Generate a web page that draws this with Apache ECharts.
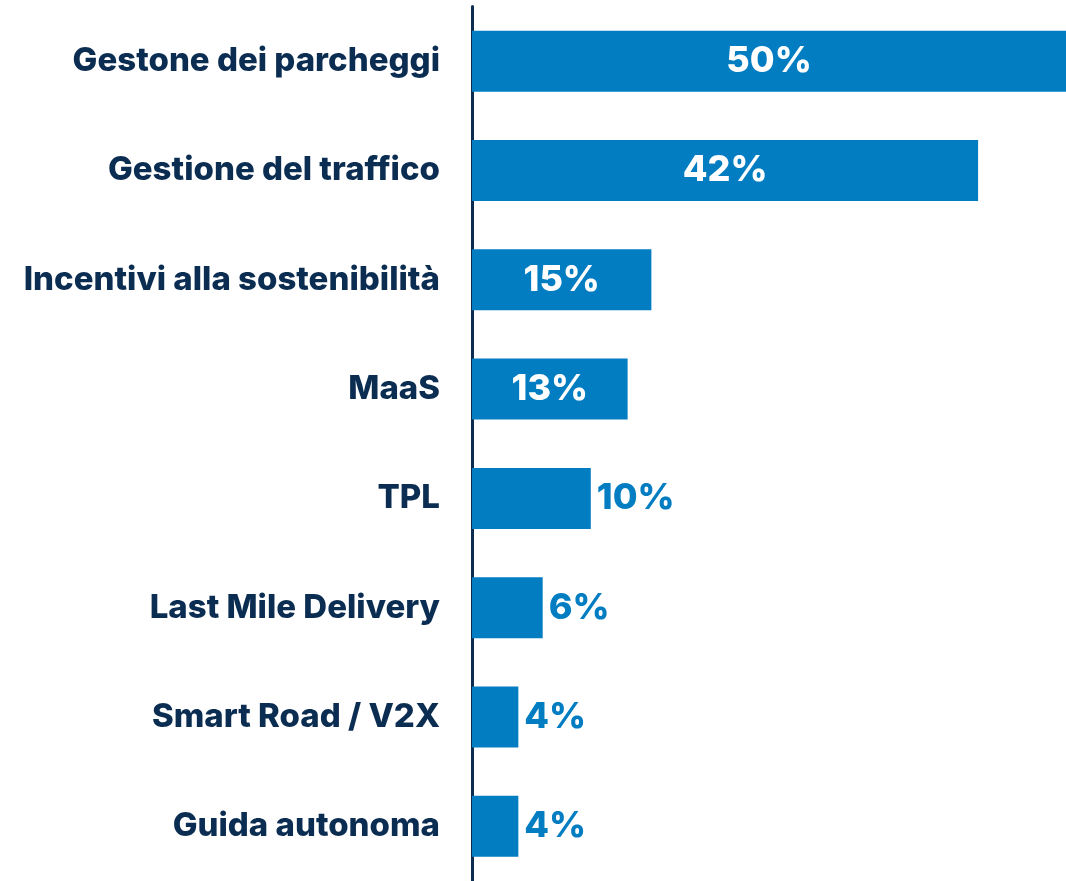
<!DOCTYPE html>
<html>
<head>
<meta charset="utf-8">
<script src="https://cdn.jsdelivr.net/npm/echarts@6/dist/echarts.min.js"></script>
<style>
  html, body { margin: 0; padding: 0; background: #fff; }
  #chart { width: 1066px; height: 881px; }
</style>
</head>
<body>
<div id="chart"></div>
<script>
// categorie (dall'alto in basso)
var categories = ['Gestone dei parcheggi', 'Gestione del traffico', 'Incentivi alla sostenibilità', 'MaaS',
    'TPL', 'Last Mile Delivery', 'Smart Road / V2X', 'Guida autonoma'];
// lunghezza barre (%)
var values = [50, 42.6, 15.1, 13.1, 10, 5.95, 3.9, 3.9];
// etichette mostrate
var valueLabels = ['50%', '42%', '15%', '13%', '10%', '6%', '4%', '4%'];
// etichette dentro la barra (bianche) o fuori (blu)
var insideFlags = [true, true, true, true, false, false, false, false];

var blue = '#027dc2';
var navy = '#0b2d52';
var font = 'Inter';

var data = values.map(function (v, i) {
    return {
        value: v,
        label: insideFlags[i]
            ? { position: 'inside', color: '#fff' }
            : { position: 'right', color: blue, distance: 6 }
    };
});

var myChart = echarts.init(document.getElementById('chart'));
var option = {
    animation: false,
    grid: { left: 472, top: 6.5, width: 600, height: 880, containLabel: false },
    xAxis: {
        type: 'value', min: 0, max: 50,
        show: false
    },
    yAxis: {
        type: 'category',
        inverse: true,
        offset: 2,
        data: categories,
        axisLine: { show: true, lineStyle: { color: navy, width: 3 } },
        axisTick: { show: false },
        axisLabel: {
            margin: 30,
            color: navy,
            fontFamily: font,
            fontWeight: 800,
            fontSize: 33
        }
    },
    series: [{
        type: 'bar',
        data: data,
        barWidth: 61,
        itemStyle: { color: blue },
        label: {
            show: true,
            fontFamily: font,
            fontWeight: 800,
            fontSize: 36,
            formatter: function (p) { return valueLabels[p.dataIndex]; }
        }
    }]
};
myChart.setOption(option);
</script>
</body>
</html>
